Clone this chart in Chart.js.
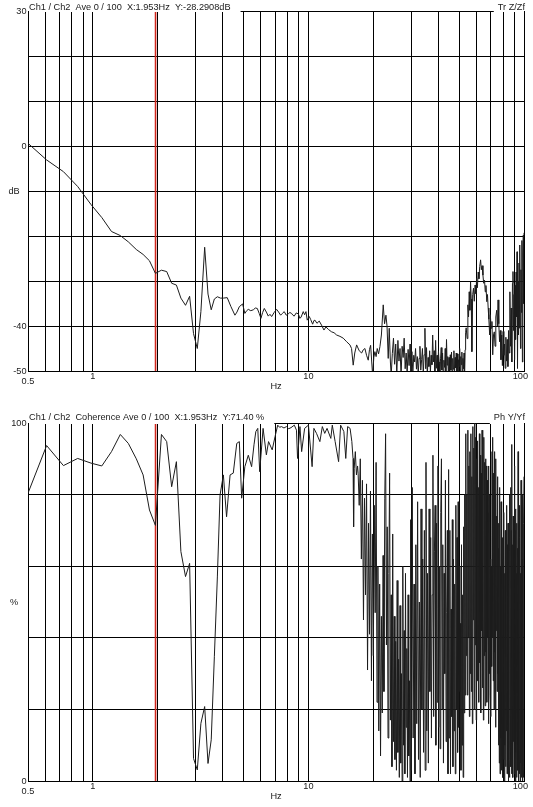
<!DOCTYPE html>
<html>
<head>
<meta charset="utf-8">
<script src="https://cdn.jsdelivr.net/npm/chart.js@4.4.1/dist/chart.umd.min.js"></script>
<style>
  html, body { margin: 0; padding: 0; background: #fff; }
  .panel { position: absolute; left: 0; width: 533px; }
  #top { top: 0; height: 395px; }
  #bottom { top: 395px; height: 412px; }
</style>
</head>
<body>
<div class="panel" id="top"><canvas id="transferChart" width="533" height="395"></canvas></div>
<div class="panel" id="bottom"><canvas id="coherenceChart" width="533" height="412"></canvas></div>
<script>
// cursor and axis setup
const cursorHz = 1.953;
const gridHz = [0.5, 0.6, 0.7, 0.8, 0.9, 1, 2, 3, 4, 5, 6, 7, 8, 9, 10, 20, 30, 40, 50, 60, 70, 80, 90, 100];
const hzLabels = [0.5, 1, 10, 100];
const dbRange = [-50, 30];
const dbLabels = [30, 0, -40, -50];
const pctRange = [0, 100];
const pctLabels = [100, 0];

// Tr Z/Zf (dB)
const transferHz = [
  0.5, 0.61, 0.73, 0.85, 0.98, 1.10, 1.22, 1.34, 1.46, 1.59, 1.71, 1.83, 1.95, 2.08, 2.20, 2.32,
  2.44, 2.56, 2.69, 2.81, 2.93, 3.05, 3.17, 3.30, 3.42, 3.54, 3.66, 3.78, 3.91, 4.03, 4.20, 4.37,
  4.56, 4.66, 4.78, 4.95, 5.07, 5.17, 5.26, 5.40, 5.55, 5.67, 5.79, 5.91, 6.02, 6.13, 6.24, 6.38,
  6.51, 6.63, 6.75, 6.93, 7.12, 7.27, 7.43, 7.57, 7.72, 7.89, 8.06, 8.20, 8.35, 8.47, 8.59, 8.78,
  8.97, 9.13, 9.25, 9.46, 9.60, 9.74, 9.87, 10.09, 10.25, 10.46, 10.60, 10.72, 10.95, 11.22, 11.50, 11.80,
  12.06, 12.40, 12.81, 13.15, 13.51, 14.00, 14.50, 15.04, 15.58, 15.85, 16.13, 16.40, 16.73, 17.20, 17.65, 17.95,
  18.28, 18.60, 18.94, 19.20, 19.43, 19.85, 20.10, 20.34, 20.60, 20.85, 21.15, 21.46, 21.80, 22.23, 22.55, 22.88,
  23.15, 23.45, 23.70, 24.00, 24.20,
  24.5, 24.8, 25.1, 25.4, 25.7, 26.0, 26.3, 26.6, 26.9, 27.2, 27.5, 27.8, 28.1, 28.4, 28.7, 29.0, 29.3, 29.6, 29.9, 30.2,
  30.5, 30.8, 31.1, 31.4, 31.7, 32.0, 32.3, 32.6, 32.9, 33.2, 33.5, 33.8, 34.1, 34.4, 34.7, 35.0, 35.3, 35.6, 35.9, 36.2,
  36.5, 36.8, 37.1, 37.4, 37.7, 38.0, 38.3, 38.6, 38.9, 39.2, 39.5, 39.8, 40.1, 40.4, 40.7, 41.0, 41.3, 41.6, 41.9, 42.2,
  42.5, 42.8, 43.1, 43.4, 43.7, 44.0, 44.3, 44.6, 44.9, 45.2, 45.5, 45.8, 46.1, 46.4, 46.7, 47.0, 47.3, 47.6, 47.9, 48.2,
  48.5, 48.8, 49.1, 49.4, 49.7, 50.0, 50.3, 50.6, 50.9, 51.2, 51.5, 51.8, 52.1, 52.4, 52.7, 53.0, 53.3, 53.6, 53.9,
  54.5, 54.9, 55.3, 55.7, 56.1, 56.5, 56.9, 57.3, 57.8, 58.3, 58.8, 59.3,
  59.8, 60.3, 60.8, 61.3, 61.8, 62.3, 62.9, 63.4, 63.9, 64.5, 65.0, 65.6, 66.1, 66.6, 67.2, 67.7,
  68.2, 68.7, 69.3, 69.8, 70.4, 71.0, 71.6, 72.2, 72.8, 73.4, 74.0, 74.7, 75.3, 75.8, 76.4, 77.0,
  77.6, 78.2, 78.8, 79.4, 80.0, 80.6, 81.2, 81.8, 82.4, 83.0, 83.6, 84.2, 84.8, 85.4, 86.0, 86.6,
  87.2, 87.8, 88.4, 88.9, 89.4, 89.9, 90.4, 90.9, 91.4, 91.9, 92.4, 92.8, 93.3, 93.8, 94.3, 94.8,
  95.3, 95.8, 96.3, 96.8, 97.3, 97.8, 98.3, 98.8, 99.3, 99.6, 100.0
];
const transferDb = [
  0.6, -3.1, -5.7, -9.0, -13.0, -15.9, -19.0, -19.9, -21.3, -23.0, -24.1, -25.5, -28.3, -27.6, -27.9, -30.5,
  -30.9, -33.8, -35.4, -33.4, -41.7, -45.0, -36.8, -22.5, -32.9, -36.4, -34.0, -33.5, -33.8, -33.8, -33.7, -35.7,
  -37.6, -36.9, -35.7, -35.1, -37.2, -36.6, -36.3, -36.6, -36.4, -36.0, -36.1, -37.2, -38.3, -37.0, -36.1, -36.9,
  -37.8, -37.4, -37.9, -37.0, -36.3, -36.9, -37.6, -37.2, -36.8, -37.6, -37.3, -37.0, -37.2, -37.6, -37.8, -37.1,
  -37.3, -38.3, -38.0, -36.8, -37.5, -36.8, -38.7, -37.9, -38.6, -39.6, -38.8, -38.7, -39.4, -38.9, -39.8, -40.9,
  -40.2, -40.8, -41.3, -41.5, -42.0, -42.3, -42.7, -43.5, -44.2, -45.0, -48.7, -46.0, -44.2, -45.5, -46.0, -45.3,
  -45.0, -46.5, -47.6, -45.2, -44.3, -51.0, -47.0, -45.7, -46.8, -45.0, -46.2, -44.6, -42.0, -35.3, -39.5, -37.6,
  -40.0, -47.2, -40.5, -48.0, -51.0,
  -46.1, -42.7, -48.5, -44.0, -50.9, -43.2, -47.8, -45.0, -51.0, -44.5, -47.0, -42.7, -49.5, -46.0, -50.6, -45.2, -48.8, -44.0, -51.0, -45.7,
  -50.5, -46.5, -48.0, -45.0, -49.6, -46.8, -50.7, -47.2, -44.5, -49.8, -47.5, -45.0, -50.8, -46.4, -40.5, -49.5, -44.8, -51.0, -47.0, -49.0,
  -45.5, -50.2, -46.5, -48.6, -42.0, -48.0, -45.5, -51.0, -43.2, -49.4, -46.5, -50.3, -45.6, -48.0, -50.6, -47.3, -44.8, -49.8, -46.0, -51.0,
  -47.6, -49.2, -45.0, -50.4, -43.0, -48.7, -46.8, -51.0, -47.0, -50.5, -46.4, -49.8, -45.8, -50.6, -47.2, -49.6, -45.5, -50.8, -47.0, -49.3,
  -46.0, -51.0, -46.2, -50.5, -47.5, -49.0, -45.0, -50.7, -46.8, -48.6, -45.8, -51.0, -47.2, -49.5, -46.0, -50.2, -45.3, -41.5, -40.4,
  -42.8, -35.3, -38.0, -32.4, -36.5, -30.2, -34.0, -45.7, -33.0, -31.6, -34.5, -30.9,
  -32.8, -29.4, -31.5, -28.0, -29.5, -26.8, -25.3, -27.5, -26.6, -28.7, -30.5, -29.8, -32.4, -31.0, -34.6, -33.0,
  -36.0, -38.5, -42.0, -37.5, -40.5, -39.0, -46.4, -42.0, -41.3, -44.5, -38.0, -36.5, -40.0, -34.2, -39.5, -43.5,
  -41.0, -47.5, -42.0, -48.8, -41.2, -46.5, -44.0, -49.4, -42.5, -47.8, -43.0, -49.0, -41.0, -46.0, -32.4, -44.5,
  -36.0, -48.0, -30.5, -27.9, -41.0, -33.0, -47.5, -31.0, -43.0, -28.0, -38.0, -23.5, -49.4, -30.0, -42.0, -26.0,
  -40.5, -22.0, -45.0, -27.5, -37.0, -21.0, -48.0, -24.0, -19.8, -35.0, -19.3
];

// Ph Y/Yf coherence (%)
const coherenceHz = [
  0.5, 0.61, 0.73, 0.85, 0.98, 1.10, 1.22, 1.34, 1.46, 1.59, 1.71, 1.83, 1.95, 2.08, 2.20, 2.32,
  2.44, 2.56, 2.69, 2.81, 2.93, 3.05, 3.17, 3.30, 3.42, 3.54, 3.66, 3.78, 3.89, 4.03, 4.17, 4.33,
  4.48, 4.65, 4.78, 4.90, 5.07, 5.26, 5.45, 5.59, 5.70, 5.82, 5.94, 6.16, 6.38, 6.53, 6.79, 7.00,
  7.20, 7.35, 7.50, 7.70, 7.90, 8.10, 8.30, 8.60, 8.80, 8.90, 9.13, 9.30, 9.60, 10.00, 10.40, 10.60,
  10.90, 11.30, 11.60, 11.90, 12.20, 12.70, 12.90, 13.30, 13.80, 14.10, 14.60, 14.90, 15.20, 15.60, 15.90, 16.10,
  16.20, 16.30, 16.50, 16.70, 16.90,
  17.0, 17.2, 17.4, 17.6, 17.8, 18.0, 18.2, 18.4, 18.6, 18.8, 19.0,
  19.2, 19.4, 19.6, 19.8, 20.0, 20.2, 20.4, 20.6, 20.8, 21.0,
  21.2, 21.4, 21.6, 21.8, 22.0, 22.2, 22.4,
  22.6, 22.8, 23.0, 23.2, 23.4, 23.6, 23.8, 24.0,
  24.2, 24.4, 24.6, 24.8, 25.0, 25.2, 25.4,
  25.6, 25.8, 26.0, 26.2, 26.4, 26.6, 26.8, 27.0, 27.2, 27.4, 27.6, 27.8, 28.0, 28.2, 28.4, 28.6, 28.8, 29.0, 29.2, 29.4, 29.6, 29.8,
  30.0, 30.3, 30.6, 30.9, 31.2, 31.5, 31.8, 32.1, 32.4, 32.7, 33.0, 33.3, 33.6, 33.9, 34.2, 34.5, 34.8, 35.1, 35.4, 35.7, 36.0,
  36.3, 36.6, 36.9, 37.2, 37.5, 37.8, 38.1, 38.4, 38.7, 39.0, 39.3, 39.6, 39.9, 40.2, 40.5, 40.8, 41.1, 41.4, 41.7, 42.0,
  42.3, 42.6, 42.9, 43.2, 43.5, 43.8, 44.1,
  44.4, 44.7, 45.0, 45.3, 45.6, 45.9, 46.2, 46.5, 46.8, 47.1, 47.4, 47.7, 48.0, 48.3, 48.6, 48.9, 49.2, 49.5, 49.8, 50.1,
  50.4, 50.7, 51.0, 51.3, 51.6, 51.9, 52.2, 52.5, 52.8, 53.1,
  53.4, 53.7, 54.0, 54.3, 54.6, 54.9, 55.2, 55.5, 55.8, 56.1, 56.4, 56.7, 57.0, 57.3, 57.6, 57.9, 58.2, 58.5, 58.8, 59.1,
  59.4, 59.7, 60.0, 60.3, 60.6, 60.9, 61.2, 61.5, 61.8, 62.1, 62.4, 62.7, 63.0, 63.3, 63.6, 63.9, 64.2, 64.5, 64.8, 65.1,
  65.4, 65.7, 66.0,
  66.3, 66.6, 66.9, 67.2, 67.5, 67.8, 68.1, 68.4, 68.7, 69.0, 69.3, 69.6, 69.9, 70.2,
  70.5, 70.8, 71.1, 71.4, 71.7, 72.0, 72.3, 72.6, 72.9, 73.2, 73.5, 73.8, 74.1, 74.4, 74.7, 75.0, 75.3, 75.6, 75.9,
  76.2, 76.5, 76.8, 77.1, 77.4, 77.7, 78.0, 78.3, 78.6, 78.9, 79.2, 79.5, 79.8, 80.1, 80.4, 80.7, 81.0, 81.3, 81.6, 81.9,
  82.2, 82.5, 82.8, 83.1, 83.4, 83.7, 84.0, 84.3, 84.6, 84.9, 85.2, 85.5, 85.8, 86.1,
  86.4, 86.7, 87.0, 87.3, 87.6, 87.9, 88.2, 88.5, 88.8, 89.1, 89.4, 89.7, 90.0, 90.3, 90.6, 90.9, 91.2, 91.5, 91.8, 92.1,
  92.4, 92.7, 93.0, 93.3, 93.6, 93.9, 94.2, 94.5, 94.8, 95.1, 95.4, 95.7, 96.0, 96.3, 96.6, 96.9, 97.2, 97.5, 97.8, 98.1,
  98.4, 98.7, 99.0, 99.3, 99.6, 99.9, 100.0
];
const coherencePct = [
  80.4, 93.7, 88.1, 90.1, 88.8, 88.0, 92.0, 96.8, 94.3, 90.0, 85.5, 75.7, 71.4, 96.8, 94.8, 82.2,
  89.2, 64.1, 57.1, 60.8, 6.3, 3.1, 16.1, 20.8, 4.9, 11.5, 34.7, 57.0, 79.9, 85.5, 73.8, 85.5,
  86.0, 94.3, 94.8, 79.0, 87.8, 91.0, 87.8, 93.9, 97.6, 98.5, 86.4, 98.5, 91.1, 94.8, 92.5, 96.2,
  99.4, 98.8, 99.0, 98.6, 99.0, 98.4, 98.7, 99.4, 98.0, 90.1, 99.0, 92.0, 98.5, 99.4, 87.8, 98.5,
  97.1, 94.8, 99.0, 97.1, 98.5, 95.7, 99.4, 94.8, 89.2, 99.4, 97.6, 90.1, 99.0, 98.5, 94.8, 90.1,
  71.0, 87.3, 92.0, 85.5, 88.0,
  86, 77, 90, 62, 84, 45, 79, 52, 83, 31, 72,
  41, 81, 28, 69, 35, 77, 47, 89, 22, 60,
  14, 55, 7, 46, 19, 63, 25,
  79, 97, 38, 71, 12, 58, 86, 17,
  52, 4, 69, 11, 46, 6, 39,
  3, 56, 8, 34, 1, 49, 5, 30, 0, 60, 10, 42, 2, 58, 15, 37, 1, 52, 7, 28, 0, 73,
  3, 82, 12, 55, 2, 66, 16, 78, 6, 50, 1, 76, 20, 62, 8, 70, 3, 89, 14, 58, 5,
  76, 25, 68, 12, 52, 91, 18, 64, 77, 10, 72, 22, 88, 15, 60, 9, 75, 90, 20, 66,
  5, 58, 30, 84, 11, 47, 70,
  2, 87, 12, 70, 2, 48, 18, 73, 4, 62, 14, 55, 2, 77, 20, 68, 8, 78, 15, 60,
  25, 44, 3, 66, 10, 52, 1, 71, 19, 80,
  24, 97, 35, 80, 24, 98, 40, 88, 18, 92, 30, 97, 25, 85, 16, 99, 45, 93, 20, 100,
  38, 96, 17, 90, 28, 95, 40, 82, 22, 97, 33, 91, 19, 86, 42, 98, 26, 94, 17, 96,
  35, 89, 21,
  90, 36, 88, 22, 84, 40, 75, 16, 88, 30, 80, 24, 62, 18,
  60, 32, 92, 40, 96, 28, 86, 20, 92, 36, 80, 15, 90, 42, 74, 25, 85, 30, 65,
  10, 72, 5, 82, 2, 60, 12, 78, 3, 55, 8, 68, 1, 62, 6, 75, 0, 58, 10, 70,
  4, 50, 14, 77, 2, 66, 9, 72, 0, 55, 6, 80, 1, 64,
  10, 82, 4, 70, 2, 94, 6, 66, 1, 74, 11, 60, 2, 88, 5, 70, 0, 76, 8, 58,
  1, 72, 14, 65, 3, 92, 0, 60, 9, 77, 2, 68, 0, 58, 5, 84, 1, 70, 12, 62,
  0, 80, 4, 66, 1, 72, 85
];

const FONT = '9.2px "Liberation Sans", Arial, sans-serif';
const INK = '#202020';

function points(xs, ys) {
  return xs.map((x, i) => ({ x: x, y: ys[i] }));
}

// headers, tick numbers and unit names, placed through the chart's scales
const panelText = {
  id: 'panelText',
  afterDraw(chart, args, o) {
    const { ctx, chartArea: a, scales: { x, y } } = chart;
    ctx.save();
    ctx.font = FONT;

    const headW = ctx.measureText(o.header).width;
    const cornerW = ctx.measureText(o.corner).width;
    ctx.fillStyle = '#fff';
    ctx.fillRect(a.left + 1, a.top - 13, headW + 10, 14);
    ctx.fillRect(a.right - cornerW - 3, a.top - 13, cornerW + 3, 14);

    ctx.fillStyle = INK;
    ctx.textBaseline = 'alphabetic';
    ctx.textAlign = 'left';
    ctx.fillText(o.header, a.left + 1, a.top - o.lift);
    ctx.textAlign = 'right';
    ctx.fillText(o.corner, a.right + 1, a.top - o.lift);

    ctx.textBaseline = 'middle';
    o.yLabels.forEach(v => {
      ctx.fillText(String(v), a.left - 1.5, y.getPixelForValue(v) + 0.5);
    });

    ctx.textAlign = 'center';
    ctx.fillText(o.unit, 14, (a.top + a.bottom) / 2);

    hzLabels.forEach((v, i) => {
      const txt = String(v);
      const w = ctx.measureText(txt).width;
      const px = Math.min(x.getPixelForValue(v), chart.width - 5 - w / 2);
      ctx.fillText(txt, px, a.bottom + (i === 0 ? 10.7 : 5.8));
    });
    ctx.fillText('Hz', (a.left + a.right) / 2, a.bottom + 15.5);
    ctx.restore();
  }
};

function makeChart(id, hz, values, range, step, padding, text) {
  return new Chart(document.getElementById(id), {
    type: 'line',
    data: {
      datasets: [
        {
          data: points(hz, values),
          borderColor: '#1c1c1c',
          borderWidth: 1,
          pointRadius: 0,
          tension: 0,
          clip: 0
        },
        {
          data: [{ x: cursorHz, y: range[0] }, { x: cursorHz, y: range[1] }],
          borderColor: '#d0261c',
          borderWidth: 1.6,
          pointRadius: 0,
          clip: 0
        }
      ]
    },
    options: {
      responsive: false,
      animation: false,
      devicePixelRatio: 1,
      events: [],
      layout: { padding: padding },
      plugins: {
        legend: { display: false },
        tooltip: { enabled: false },
        panelText: text
      },
      scales: {
        x: {
          type: 'logarithmic',
          min: 0.5,
          max: 100,
          afterBuildTicks: s => { s.ticks = gridHz.map(v => ({ value: v })); },
          afterFit: s => { s.height = 0; },
          ticks: { display: false },
          grid: { color: '#000', lineWidth: 1, drawTicks: false },
          border: { color: '#000', width: 1 }
        },
        y: {
          type: 'linear',
          min: range[0],
          max: range[1],
          afterFit: s => { s.width = 0; },
          ticks: { display: false, stepSize: step },
          grid: { color: '#000', lineWidth: 1, drawTicks: false },
          border: { color: '#000', width: 1 }
        }
      }
    },
    plugins: [panelText]
  });
}

makeChart('transferChart', transferHz, transferDb, dbRange, 10,
  { left: 28, right: 9, top: 11, bottom: 24 },
  { header: 'Ch1 / Ch2  Ave 0 / 100  X:1.953Hz  Y:-28.2908dB', corner: 'Tr Z/Zf', unit: 'dB', yLabels: dbLabels, lift: 1.5 });

makeChart('coherenceChart', coherenceHz, coherencePct, pctRange, 20,
  { left: 28, right: 9, top: 28, bottom: 26 },
  { header: 'Ch1 / Ch2  Coherence Ave 0 / 100  X:1.953Hz  Y:71.40 %', corner: 'Ph Y/Yf', unit: '%', yLabels: pctLabels, lift: 3 });
</script>
</body>
</html>
